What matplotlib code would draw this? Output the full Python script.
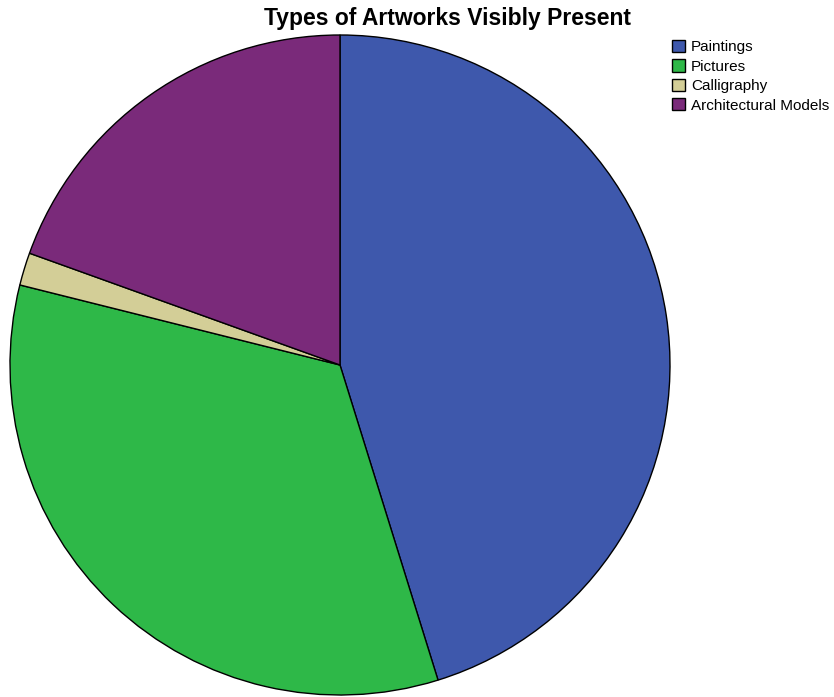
import matplotlib.pyplot as plt

labels = ['Paintings', 'Pictures', 'Calligraphy', 'Architectural Models']
shares = [45.2, 33.7, 1.6, 19.5]
colors = ['#3E58AC', '#2EB848', '#D3CE97', '#7A2A7A']

fig = plt.figure(figsize=(8.34, 6.97), dpi=100)
ax = fig.add_axes([10 / 834, 2 / 697, 660 / 834, 660 / 697])
wedges, _ = ax.pie(shares, colors=colors, startangle=90, counterclock=False,
                   wedgeprops=dict(edgecolor='black', linewidth=1))
ax.set_xlim(-1, 1)
ax.set_ylim(-1, 1)
ax.set_aspect('equal')

fig.text(447 / 834, 1 - 18 / 697, 'Types of Artworks Visibly Present',
         ha='center', va='center', fontsize=16.5, fontweight='bold',
         family='Liberation Sans')

fig.legend(wedges, labels, loc='upper left', bbox_to_anchor=(672 / 834, 1 - 40 / 697),
           frameon=False, prop={'family': 'Liberation Sans', 'size': 11},
           handlelength=0.85, handleheight=0.85, handletextpad=0.4,
           labelspacing=0.33, borderpad=0, borderaxespad=0)

fig.savefig('out.png', dpi=100)
